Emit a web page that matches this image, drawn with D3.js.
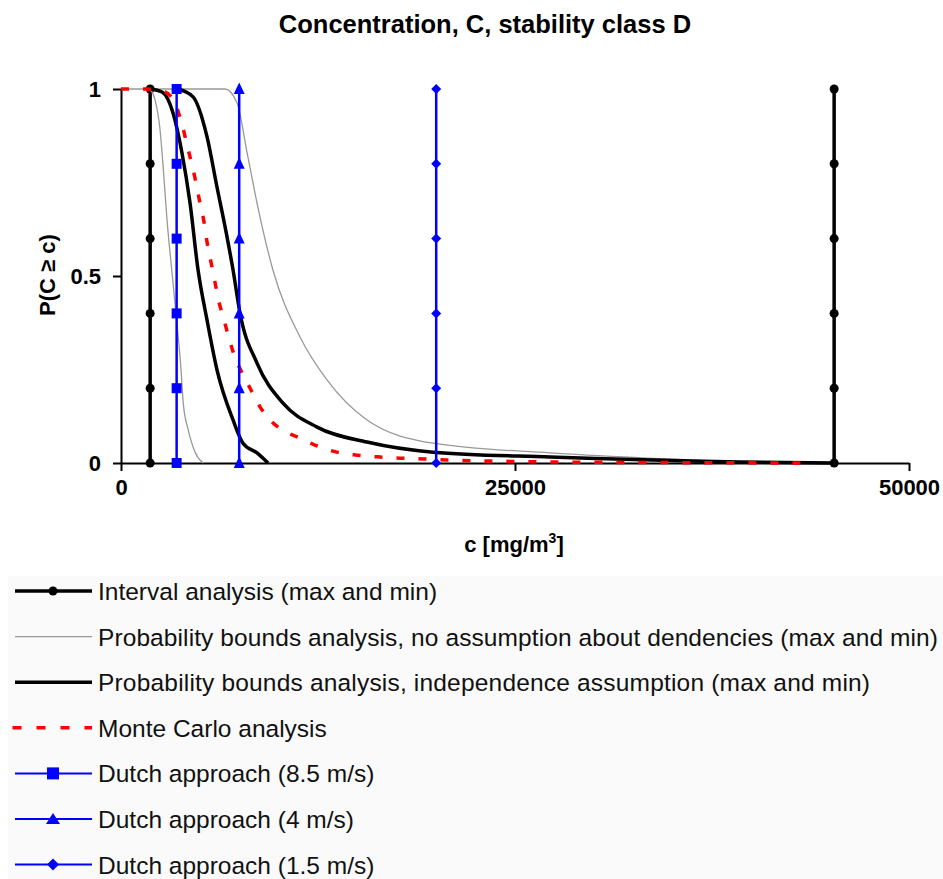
<!DOCTYPE html>
<html>
<head>
<meta charset="utf-8">
<script src="https://cdn.jsdelivr.net/npm/d3@7"></script>
<style>
  body { margin: 0; background: #fff; }
  svg { display: block; font-family: 'Liberation Sans', Arial, sans-serif; }
</style>
</head>
<body>
<svg id="chart" width="943" height="879"></svg>
<script>
const xTicks = [0, 25000, 50000]
const yTicks = [0, 0.5, 1]
const probLevels = [0, 0.2, 0.4, 0.6, 0.8, 1]
const intervalBounds = [1850, 45250]
const dutchValues = [3530, 7500, 20000] // 8.5, 4, 1.5 m/s

// [c, P(C >= c)]
const pbaNoAssumptionMin = [[1840, 1], [2160, 0.971], [2480, 0.89], [2690, 0.783], [2920, 0.65], [3220, 0.516], [3530, 0.382], [3810, 0.249], [3950, 0.16], [4270, 0.088], [4700, 0.029], [5220, 0]]
const pbaNoAssumptionMax = [[0, 1], [6600, 1], [7360, 0.963], [8000, 0.83], [8630, 0.695], [9640, 0.516], [11360, 0.337], [13070, 0.222], [15610, 0.115], [19800, 0.053], [27220, 0.027], [33570, 0.013], [39280, 0.003], [45250, 0]]
const pbaIndepMin = [[1840, 1], [2600, 0.992], [3300, 0.936], [3870, 0.829], [4380, 0.695], [4890, 0.516], [5460, 0.382], [6090, 0.249], [7110, 0.115], [7740, 0.053], [8630, 0.027], [9330, 0]]
const pbaIndepMax = [[3600, 1], [4570, 0.979], [5460, 0.872], [6090, 0.738], [6730, 0.604], [7110, 0.516], [7550, 0.401], [8630, 0.267], [10280, 0.16], [12440, 0.096], [15610, 0.056], [19800, 0.029], [27220, 0.016], [39280, 0.003], [45250, 0]]
const monteCarlo = [[0, 1], [1600, 1], [2800, 0.992], [3550, 0.949], [3915, 0.899], [4190, 0.85], [4505, 0.797], [4760, 0.749], [5010, 0.695], [5270, 0.644], [5460, 0.591], [5710, 0.537], [5960, 0.484], [6220, 0.43], [6540, 0.382], [6850, 0.334], [7230, 0.283], [7680, 0.241], [8190, 0.2], [8820, 0.15], [9580, 0.11], [10600, 0.08], [11360, 0.067], [12300, 0.048], [13700, 0.029], [14970, 0.021], [16430, 0.016], [17700, 0.013], [19160, 0.011], [20680, 0.008], [23600, 0.005], [26900, 0.003], [35000, 0.001], [43900, 0]]

const legendLabels = [
  'Interval analysis (max and min)',
  'Probability bounds analysis, no assumption about dendencies (max and min)',
  'Probability bounds analysis, independence assumption (max and min)',
  'Monte Carlo analysis',
  'Dutch approach (8.5 m/s)',
  'Dutch approach (4 m/s)',
  'Dutch approach (1.5 m/s)'
]

const svg = d3.select('#chart')

const x = d3.scaleLinear().domain([0, 50000]).range([121, 909])
const y = d3.scaleLinear().domain([0, 1]).range([463, 89])

// markers
const circleMark = d3.symbol().type(d3.symbolCircle).size(64)
const squareMark = 'M-5,-5H5V5H-5Z'
const triangleMark = 'M0,-6.5L5.5,5L-5.5,5Z'
const diamondMark = 'M0,-5L5,0L0,5L-5,0Z'

svg.append('text')
  .attr('x', 485)
  .attr('y', 33)
  .attr('text-anchor', 'middle')
  .style('font-size', '25.5px')
  .style('font-weight', 'bold')
  .text('Concentration, C, stability class D')

// axes
const xAxis = svg.append('g')
  .attr('transform', `translate(0,${y(0)})`)
  .call(d3.axisBottom(x).tickValues(xTicks).tickSize(8).tickSizeOuter(0).tickPadding(8).tickFormat(d3.format('d')))

const yAxis = svg.append('g')
  .attr('transform', `translate(${x(0)},0)`)
  .call(d3.axisLeft(y).tickValues(yTicks).tickSize(8).tickSizeOuter(0).tickPadding(12).tickFormat(d => d === 0.5 ? '0.5' : d3.format('d')(d)))

;[xAxis, yAxis].forEach(ax => {
  ax.select('.domain').attr('stroke', '#000').attr('stroke-width', 2)
  ax.selectAll('.tick line').attr('stroke', '#000').attr('stroke-width', 2)
  ax.selectAll('.tick text')
    .attr('fill', '#000')
    .style('font-size', '22px')
    .style('font-weight', 'bold')
    .style('font-family', "'Liberation Sans', Arial, sans-serif")
})

svg.append('text')
  .attr('transform', 'translate(55,275) rotate(-90)')
  .attr('text-anchor', 'middle')
  .style('font-size', '22px')
  .style('font-weight', 'bold')
  .text('P(C \u2265 c)')

const xLabel = svg.append('text')
  .attr('x', 514)
  .attr('y', 552)
  .attr('text-anchor', 'middle')
  .style('font-size', '22px')
  .style('font-weight', 'bold')
xLabel.append('tspan').text('c [mg/m')
xLabel.append('tspan').attr('dy', -9).style('font-size', '14px').text('3')
xLabel.append('tspan').attr('dy', 9).text(']')

// series
const curve = d3.line()
  .x(d => x(d[0]))
  .y(d => y(d[1]))
  .curve(d3.curveMonotoneX)

const vertical = d3.line()
  .x(d => x(d[0]))
  .y(d => y(d[1]))

const plot = svg.append('g')

// interval analysis
intervalBounds.forEach(c => {
  const pts = probLevels.map(p => [c, p])
  plot.append('path')
    .attr('d', vertical(pts))
    .attr('fill', 'none')
    .attr('stroke', '#000')
    .attr('stroke-width', 3.5)
  plot.selectAll(null)
    .data(pts)
    .enter()
    .append('path')
    .attr('d', circleMark)
    .attr('transform', d => `translate(${x(d[0])},${y(d[1])})`)
    .attr('fill', '#000')
})

// probability bounds, no assumption
;[pbaNoAssumptionMin, pbaNoAssumptionMax].forEach(pts => {
  plot.append('path')
    .attr('d', curve(pts))
    .attr('fill', 'none')
    .attr('stroke', '#999')
    .attr('stroke-width', 1.3)
})

// probability bounds, independence
;[pbaIndepMin, pbaIndepMax].forEach(pts => {
  plot.append('path')
    .attr('d', curve(pts))
    .attr('fill', 'none')
    .attr('stroke', '#000')
    .attr('stroke-width', 3.5)
})

// monte carlo
plot.append('path')
  .attr('d', curve(monteCarlo))
  .attr('fill', 'none')
  .attr('stroke', '#f00')
  .attr('stroke-width', 3.5)
  .attr('stroke-dasharray', '8,14')

// dutch approach
const dutchMarks = [squareMark, triangleMark, diamondMark]
dutchValues.forEach((c, i) => {
  const pts = probLevels.map(p => [c, p])
  plot.append('path')
    .attr('d', vertical(pts))
    .attr('fill', 'none')
    .attr('stroke', '#00f')
    .attr('stroke-width', 2.5)
  plot.selectAll(null)
    .data(pts)
    .enter()
    .append('path')
    .attr('d', dutchMarks[i])
    .attr('transform', d => `translate(${x(d[0])},${y(d[1])})`)
    .attr('fill', '#00f')
})

// legend
const legend = svg.append('g')
legend.append('rect')
  .attr('x', 8)
  .attr('y', 576)
  .attr('width', 935)
  .attr('height', 303)
  .attr('fill', '#fafafa')

const legendStyles = [
  { stroke: '#000', width: 3.5, mark: circleMark },
  { stroke: '#999', width: 1.3, textLen: 840 },
  { stroke: '#000', width: 3.5, textLen: 772 },
  { stroke: '#f00', width: 3.5, dash: '9,15' },
  { stroke: '#00f', width: 2, mark: 'M-6,-6H6V6H-6Z' },
  { stroke: '#00f', width: 2, mark: 'M0,-6L7,5L-7,5Z' },
  { stroke: '#00f', width: 2, mark: 'M0,-6L6,0L0,6L-6,0Z' }
]

legendLabels.forEach((label, i) => {
  const cy = 591 + i * 45.6
  const st = legendStyles[i]
  const row = legend.append('g').attr('transform', `translate(0,${cy})`)
  row.append('line')
    .attr('x1', st.dash ? 12.5 : 15)
    .attr('x2', 92)
    .attr('stroke', st.stroke)
    .attr('stroke-width', st.width)
    .attr('stroke-dasharray', st.dash || null)
  if (st.mark) {
    row.append('path')
      .attr('d', st.mark)
      .attr('transform', 'translate(53,0)')
      .attr('fill', st.stroke)
  }
  const txt = row.append('text')
    .attr('x', 98)
    .attr('y', 9)
    .style('font-size', '24.5px')
    .attr('fill', '#111')
    .text(label)
  if (st.textLen) txt.attr('textLength', st.textLen).attr('lengthAdjust', 'spacing')
})
</script>
</body>
</html>
